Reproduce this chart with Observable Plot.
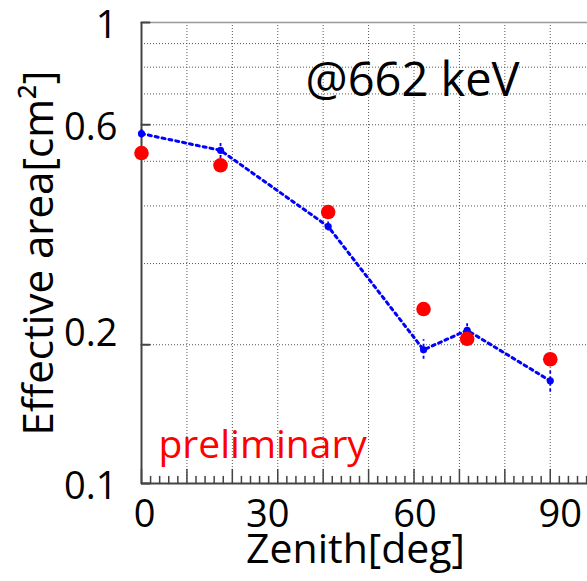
<!DOCTYPE html>
<html>
<head>
<meta charset="utf-8">
<script src="https://cdn.jsdelivr.net/npm/d3@7"></script>
<script src="https://cdn.jsdelivr.net/npm/@observablehq/plot@0.6"></script>
<style>
  html, body { margin: 0; padding: 0; background: #fff; overflow: hidden; }
  #chart svg { display: block; }
</style>
</head>
<body>
<div id="chart"></div>
<script>
// Zenith angles of the measurements (deg)
const zenith = [0, 17.4, 41.1, 62.1, 71.7, 90];
// Simulated effective area (cm^2) with its error band
const simArea = [0.574, 0.528, 0.361, 0.195, 0.215, 0.167];
const simLow  = [0.561, 0.507, 0.353, 0.186, 0.206, 0.158];
const simHigh = [0.586, 0.550, 0.369, 0.205, 0.225, 0.176];
// Measured effective area (cm^2)
const measArea = [0.521, 0.490, 0.388, 0.239, 0.206, 0.186];

// Axis ticks
const yLabelTicks = [1, 0.6, 0.1];
const yLabelTicksRaised = [0.2];
const yGridTicks = [0.2, 0.3, 0.4, 0.5, 0.6, 0.7, 0.8, 0.9];
const xGridTicks = [10, 20, 30, 40, 50, 60, 70, 80, 90];
const xMajorTicks = [0, 10, 20, 30, 40, 50, 60, 70, 80, 90];
const xMinorTicks = d3.range(2, 99, 2).filter(d => d % 10 !== 0);
const xLabels = [0, 30, 60, 90];
const xLabelNudge = [3, -10, 1, 10];

const sim = zenith.map((z, i) => ({z, a: simArea[i], lo: simLow[i], hi: simHigh[i]}));
const meas = zenith.map((z, i) => ({z, a: measArea[i]}));

// A tick drawn from its anchor point straight "up" in the vector's frame
const tickShape = {draw(context, l) { context.moveTo(0, 0); context.lineTo(0, -l); }};

const font = "'Open Sans', 'Noto Sans', sans-serif";
const grid = {stroke: "#555", strokeOpacity: 1, strokeWidth: 1, strokeDasharray: "1,2"};

const chart = Plot.plot({
  width: 587,
  height: 581,
  marginLeft: 141,
  marginRight: 0,
  marginTop: 22,
  marginBottom: 98,
  style: {fontFamily: font, fontSize: "38px", color: "#000", background: "#fff"},
  x: {domain: [0, 98.2], label: null},
  y: {type: "log", domain: [0.1, 1], label: null},
  marks: [
    Plot.gridY(yGridTicks, grid),
    Plot.gridX(xGridTicks, grid),
    // frame edges
    Plot.ruleY([1], {stroke: "#999", strokeWidth: 1.6}),
    Plot.ruleX([0], {stroke: "#444", strokeWidth: 2}),
    Plot.ruleY([0.1], {stroke: "#444", strokeWidth: 2}),
    // inward ticks on the zenith axis
    Plot.vector(xMajorTicks, {x: d => d, frameAnchor: "bottom", anchor: "start", length: 14, shape: tickShape, stroke: "#444", strokeWidth: 1.5}),
    Plot.vector(xMinorTicks, {x: d => d, frameAnchor: "bottom", anchor: "start", length: 7, shape: tickShape, stroke: "#444", strokeWidth: 1.5}),
    // inward ticks on the area axis
    Plot.vector([...yLabelTicks, ...yLabelTicksRaised], {y: d => d, frameAnchor: "left", anchor: "start", rotate: 90, length: 8, shape: tickShape, stroke: "#444", strokeWidth: 2}),
    // tick labels
    Plot.axisY(yLabelTicks, {tickSize: 0, tickPadding: 24, dy: 3, label: null, tickFormat: d => String(d), fontSize: 38}),
    Plot.axisY(yLabelTicksRaised, {tickSize: 0, tickPadding: 24, dy: -11, label: null, tickFormat: d => String(d), fontSize: 38}),
    ...xLabels.map((v, i) => Plot.axisX([v], {tickSize: 0, tickPadding: 17, dx: xLabelNudge[i], label: null, tickFormat: d => String(d), fontSize: 38})),
    // simulation: error bars, dotted line, markers
    Plot.ruleX(sim, {x: "z", y1: "lo", y2: "hi", stroke: "#0000ff", strokeWidth: 1.8, strokeDasharray: "3,3"}),
    Plot.line(sim, {x: "z", y: "a", stroke: "#0000ff", strokeWidth: 3, strokeDasharray: "3,4"}),
    Plot.dot(sim, {x: "z", y: "a", r: 3.6, fill: "#0000ff"}),
    // measurement markers
    Plot.dot(meas, {x: "z", y: "a", r: 7.3, fill: "#ff0000"}),
    // annotations and axis titles
    Plot.text(["@662 keV"], {frameAnchor: "top-left", textAnchor: "start", lineAnchor: "bottom", dx: 164, dy: 73, fontSize: 47, fill: "#000"}),
    Plot.text(["preliminary"], {frameAnchor: "bottom-left", textAnchor: "start", lineAnchor: "bottom", dx: 17, dy: -26, fontSize: 39, fill: "#ff0000"}),
    Plot.text(["Zenith[deg]"], {frameAnchor: "bottom", textAnchor: "middle", lineAnchor: "bottom", dx: -9, dy: 79, fontSize: 41, fill: "#000"}),
    Plot.text(["Effective area[cm²]"], {frameAnchor: "left", textAnchor: "middle", lineAnchor: "middle", rotate: -90, dx: -102, fontSize: 42, fill: "#000"})
  ]
});

document.getElementById("chart").appendChild(chart);
</script>
</body>
</html>
